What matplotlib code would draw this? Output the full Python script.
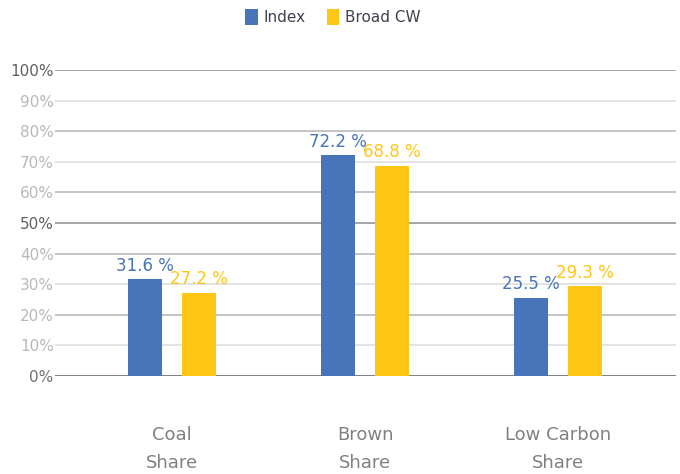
import matplotlib.pyplot as plt
import numpy as np

categories = ["Coal\nShare", "Brown\nShare", "Low Carbon\nShare"]
index_vals = [31.6, 72.2, 25.5]
broad_vals = [27.2, 68.8, 29.3]
series_names = ["Index", "Broad CW"]
yticks = list(range(0, 101, 10))

blue = "#4874b9"
yellow = "#ffc614"

fig = plt.figure(figsize=(6.8, 4.74), dpi=100)
ax = fig.add_axes([0.081, 0.207, 0.913, 0.645])

x = np.arange(len(categories))
w = 0.18
off = 0.14
b1 = ax.bar(x - off, index_vals, w, color=blue, label=series_names[0], zorder=3)
b2 = ax.bar(x + off, broad_vals, w, color=yellow, label=series_names[1], zorder=3)

for xi, v in zip(x, index_vals):
    ax.text(xi - off, v + 1.5, f"{v} %", ha="center", va="bottom", color=blue, fontsize=12)
for xi, v in zip(x, broad_vals):
    ax.text(xi + off, v + 1.5, f"{v} %", ha="center", va="bottom", color=yellow, fontsize=12)

# grid lines with alternating shades
for t in yticks:
    if t == 0:
        c, lw = "#7f7f7f", 1.4
    elif t in (50, 100):
        c, lw = "#a6a6a6", 1.4
    elif t % 20 == 0:
        c, lw = "#bfbfbf", 1.3
    else:
        c, lw = "#e0e0e0", 1.3
    ax.axhline(t, color=c, linewidth=lw, zorder=1)

ax.set_xlim(-0.606, 2.611)
ax.set_ylim(0, 100)
ax.set_yticks(yticks)
ax.set_yticklabels([f"{t}%" for t in yticks], fontsize=11)
for t, lab in zip(yticks, ax.get_yticklabels()):
    if t in (50, 100):
        lab.set_color("#606060")
    elif t == 0:
        lab.set_color("#707070")
    else:
        lab.set_color("#b8b8b8")

ax.set_xticks(x)
ax.set_xticklabels(categories, fontsize=13, color="#808080", linespacing=1.75)
ax.tick_params(axis="x", length=0, pad=36)
ax.tick_params(axis="y", length=0, pad=1)
for s in ax.spines.values():
    s.set_visible(False)

fig.legend(handles=[b1, b2], labels=series_names, loc="upper center",
           bbox_to_anchor=(0.49, 1.01), ncol=2, frameon=False, fontsize=11,
           handlelength=0.8, handleheight=1.2, columnspacing=1.4, handletextpad=0.4,
           labelcolor="#404050")

fig.savefig("out.png", dpi=100)
